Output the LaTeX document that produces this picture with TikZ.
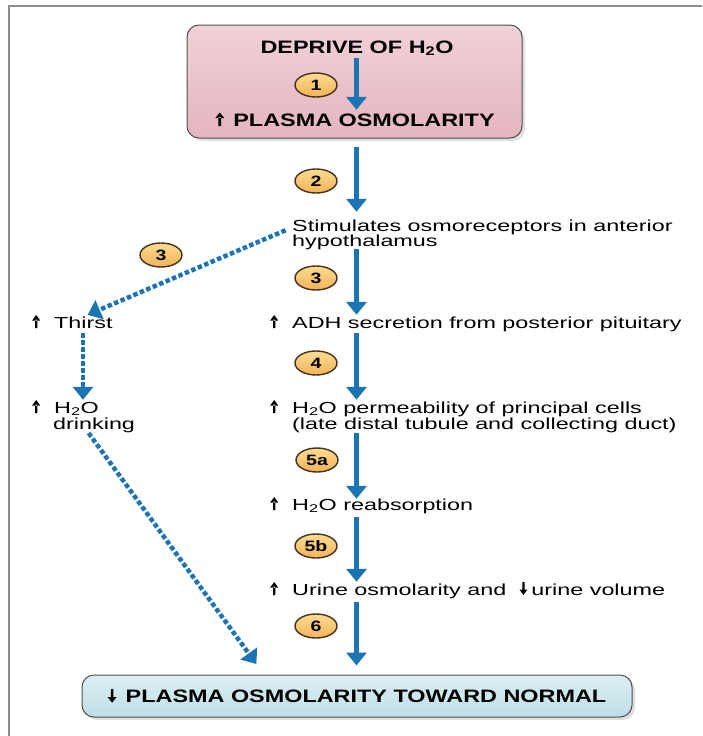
\documentclass[tikz,border=0pt]{standalone}
\usepackage{fontspec}
\setmainfont{Liberation Sans}[FakeStretch=1.46]
\newfontfamily\boldfam{Liberation Sans}[FakeStretch=1.3]
\usetikzlibrary{arrows.meta,shapes.geometric,shadows}
\definecolor{arrblue}{RGB}{28,117,178}
\definecolor{pinkT}{RGB}{241,209,216}
\definecolor{pinkB}{RGB}{228,181,191}
\definecolor{blueT}{RGB}{220,239,243}
\definecolor{blueB}{RGB}{190,222,229}
\definecolor{badgeT}{RGB}{253,220,145}
\definecolor{badgeB}{RGB}{242,178,88}
\definecolor{badgeline}{RGB}{70,50,30}
\definecolor{boxline}{RGB}{80,80,80}
\definecolor{framegray}{RGB}{140,140,140}
% arrow symbols
\tikzset{symb/.style={baseline=0pt,x=1pt,y=1pt,sharp corners}}
\newcommand{\upsym}{\tikz[symb]\fill[black] (-1.1,0) rectangle (1.1,8.5) (-4,7.5) -- (4,7.5) -- (0,13) -- cycle;}
\newcommand{\dnsym}{\tikz[symb]\fill[black] (-1.1,4.5) rectangle (1.1,13) (-4,5.5) -- (4,5.5) -- (0,0) -- cycle;}
\newcommand{\upsymb}{\tikz[symb]\fill[black] (-1.3,0) rectangle (1.3,9) (-4.4,8) -- (4.4,8) -- (0,13.5) -- cycle;}
\newcommand{\dnsymb}{\tikz[symb]\fill[black] (-1.3,4.5) rectangle (1.3,13.5) (-4.4,5.5) -- (4.4,5.5) -- (0,0) -- cycle;}
\newcommand{\upar}{\makebox[22pt][l]{\upsym}}
\newcommand{\uparb}{\makebox[18pt][l]{\upsymb}}
\newcommand{\dnarb}{\makebox[18pt][l]{\dnsymb}}
\begin{document}
\begin{tikzpicture}[x=1pt,y=-1pt,
  txt/.style={anchor=base west, inner sep=0pt, text height=11pt, text depth=3pt,
    font=\fontsize{16}{14}\selectfont},
  ttl/.style={anchor=base, inner sep=0pt, text height=13pt, text depth=3.5pt,
    font=\boldfam\bfseries\fontsize{18}{18}\selectfont},
  badge/.style={ellipse, draw=badgeline, line width=1.4pt, top color=badgeT, bottom color=badgeB,
    minimum width=42pt, minimum height=24pt, inner sep=0pt,
    font=\boldfam\bfseries\fontsize{15}{15}\selectfont},
  flow/.style={line width=4.5pt, draw=arrblue, -{Triangle[width=20pt,length=13pt]}},
  dflow/.style={flow, dash pattern=on 4.5pt off 2.5pt},
  box/.style={rounded corners=12pt, draw=boxline, line width=1pt,
    drop shadow={opacity=0.25, shadow xshift=3pt, shadow yshift=-3pt}}
]
\useasboundingbox (0,0) rectangle (702,736);
\fill[white] (0,0) rectangle (702,736);
\draw[framegray, line width=2.5pt] (9,736) -- (9,6) -- (702,6);

% boxes
\node[box, top color=pinkT, bottom color=pinkB, minimum width=335pt, minimum height=113pt] (topbox) at (354.5,81.5) {};
\node[box, top color=blueT, bottom color=blueB, minimum width=550pt, minimum height=42pt,
  inner sep=0pt, font=\boldfam\bfseries\fontsize{18}{18}\selectfont] (bot) at (357,696)
  {\dnarb PLASMA OSMOLARITY TOWARD NORMAL};

% titles
\node[ttl] (deprive) at (357,53) {DEPRIVE OF H\textsubscript{2}O};
\node[ttl] (plasma) at (355,126) {\uparb PLASMA OSMOLARITY};

% texts
\node[txt] (stim1) at (292,231.5) {Stimulates osmoreceptors in anterior};
\node[txt] (stim2) at (292,246) {hypothalamus};
\node[txt] (thirst) at (32,328) {\upar Thirst};
\node[txt] (adh) at (270,328) {\upar ADH secretion from posterior pituitary};
\node[txt] (drink1) at (32,413) {\upar H\textsubscript{2}O};
\node[txt] (drink2) at (53,429) {drinking};
\node[txt] (perm1) at (270,413) {\upar H\textsubscript{2}O permeability of principal cells};
\node[txt] (perm2) at (292,429) {(late distal tubule and collecting duct)};
\node[txt] (reab) at (270,510) {\upar H\textsubscript{2}O reabsorption};
\node[txt] (urine) at (270,595) {\upar Urine osmolarity and\hspace{13pt}\makebox[12pt][l]{\dnsym}urine volume};

% spine coordinates
\coordinate (sp) at (356.5,0);
\coordinate (cx1) at (83,0);
\coordinate (cx2) at (88,0);
\coordinate (cx3) at (264,0);

% main arrows
\draw[flow, shorten <=1.5pt, shorten >=3pt] (deprive.south -| sp) -- (plasma.north -| sp);
\draw[flow, shorten <=8pt, shorten >=8.5pt] (topbox.south -| sp) -- (stim1.north -| sp);
\draw[flow, shorten >=2pt] (stim2.south -| sp) -- (adh.north -| sp);
\draw[flow, shorten <=2pt, shorten >=2pt] (adh.south -| sp) -- (perm1.north -| sp);
\draw[flow, shorten <=1pt] (perm2.south -| sp) -- (reab.north -| sp);
\draw[flow, shorten <=4pt, shorten >=2pt] (reab.south -| sp) -- (urine.north -| sp);
\draw[flow, shorten <=4pt, shorten >=9pt] (urine.south -| sp) -- (bot.north -| sp);

% dashed arrows
\draw[dflow, shorten <=7pt, shorten >=5pt] (stim1.west) -- (thirst.north -| cx1);
\draw[dflow, shorten <=2pt, shorten >=2pt] (thirst.south -| cx1) -- (drink1.north -| cx1);
\draw[dflow, shorten <=1pt, shorten >=13pt] (drink2.south -| cx2) -- (bot.north -| cx3);

% badges
\node[badge] (b1) at (316,85) {1};
\node[badge] (b2) at (316,181) {2};
\node[badge] (b3l) at (161,255) {3};
\node[badge] (b3) at (316,278) {3};
\node[badge] (b4) at (316,363) {4};
\node[badge] (b5a) at (317,460) {5a};
\node[badge] (b5b) at (316,546) {5b};
\node[badge] (b6) at (316,626) {6};
\end{tikzpicture}
\end{document}
